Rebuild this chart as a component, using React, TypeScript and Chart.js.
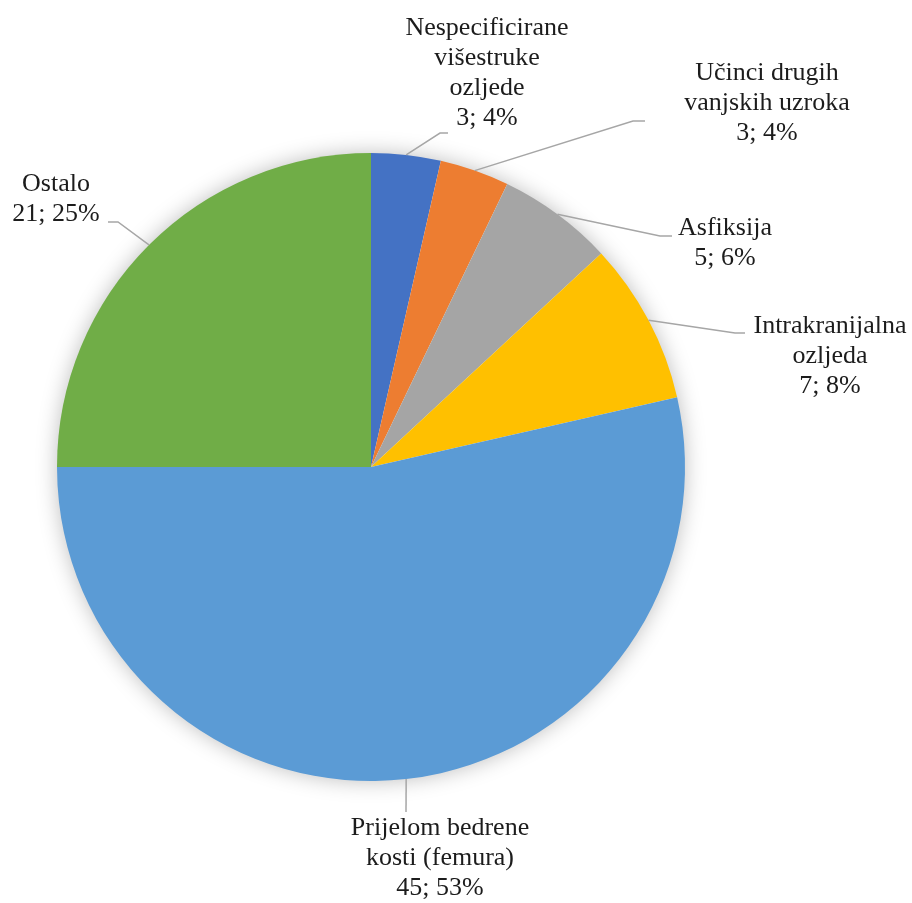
import React, { useEffect, useRef } from "react";
import { Chart, registerables } from "chart.js";

Chart.register(...registerables);

const categories: string[][] = [
  ["Nespecificirane", "višestruke", "ozljede"],
  ["Učinci drugih", "vanjskih uzroka"],
  ["Asfiksija"],
  ["Intrakranijalna", "ozljeda"],
  ["Prijelom bedrene", "kosti (femura)"],
  ["Ostalo"],
];
const values: number[] = [3, 3, 5, 7, 45, 21];
const percents: number[] = [4, 4, 6, 8, 53, 25];
const colors: string[] = ["#4472C4", "#ED7D31", "#A5A5A5", "#FFC000", "#5B9BD5", "#70AD47"];

// label placement relative to pie centre (px): text centre + first baseline, leader elbow, leader end
const labelLayout = [
  { tx: 116, ty: -432, ex: 69, ey: -334, hx: 77, hy: -334 },
  { tx: 396, ty: -387, ex: 262, ey: -346, hx: 274, hy: -346 },
  { tx: 354, ty: -232, ex: 289, ey: -231, hx: 301, hy: -231 },
  { tx: 459, ty: -134, ex: 364, ey: -134, hx: 374, hy: -134 },
  { tx: 69, ty: 368, ex: 35, ey: 345, hx: 35, hy: 345 },
  { tx: -315, ty: -276, ex: -253, ey: -245, hx: -263, hy: -245 },
];

const FONT = '26px "Liberation Serif", "Times New Roman", serif';
const LINE_H = 30;

const shadowPlugin = {
  id: "pieShadow",
  beforeDatasetsDraw(chart: any) {
    const meta = chart.getDatasetMeta(0);
    const arc = meta.data[0];
    if (!arc) return;
    const { x, y, outerRadius } = arc.getProps(["x", "y", "outerRadius"], true);
    const ctx = chart.ctx;
    ctx.save();
    ctx.shadowColor = "rgba(0,0,0,0.28)";
    ctx.shadowBlur = 22;
    ctx.shadowOffsetX = 0;
    ctx.shadowOffsetY = 0;
    ctx.fillStyle = "#ffffff";
    ctx.beginPath();
    ctx.arc(x, y, outerRadius - 1, 0, Math.PI * 2);
    ctx.fill();
    ctx.restore();
  },
};

const labelPlugin = {
  id: "pieLabels",
  afterDatasetsDraw(chart: any) {
    const meta = chart.getDatasetMeta(0);
    const ctx = chart.ctx;
    ctx.save();
    meta.data.forEach((el: any, i: number) => {
      const { x, y, outerRadius, startAngle, endAngle } = el.getProps(
        ["x", "y", "outerRadius", "startAngle", "endAngle"],
        true
      );
      const mid = (startAngle + endAngle) / 2;
      const ax = x + Math.cos(mid) * outerRadius;
      const ay = y + Math.sin(mid) * outerRadius;
      const L = labelLayout[i];
      ctx.strokeStyle = "#A6A6A6";
      ctx.lineWidth = 1.5;
      ctx.beginPath();
      ctx.moveTo(ax, ay);
      ctx.lineTo(x + L.ex, y + L.ey);
      ctx.lineTo(x + L.hx, y + L.hy);
      ctx.stroke();
      const lines = [...categories[i], `${values[i]}; ${percents[i]}%`];
      ctx.fillStyle = "#1c1c1c";
      ctx.font = FONT;
      ctx.textAlign = "center";
      ctx.textBaseline = "alphabetic";
      lines.forEach((t, k) => {
        ctx.fillText(t, x + L.tx, y + L.ty + k * LINE_H);
      });
    });
    ctx.restore();
  },
};

export default function App() {
  const ref = useRef<HTMLCanvasElement | null>(null);
  useEffect(() => {
    document.body.style.margin = "0";
    const canvas = ref.current;
    if (!canvas) return;
    const chart = new Chart(canvas, {
      type: "pie",
      data: {
        labels: categories.map((c) => c.join(" ")),
        datasets: [
          {
            data: values,
            backgroundColor: colors,
            borderWidth: 0,
          },
        ],
      },
      options: {
        animation: false,
        responsive: false,
        rotation: 0,
        layout: { padding: { left: 57, right: 227, top: 153, bottom: 122 } },
        plugins: {
          legend: { display: false },
          tooltip: { enabled: false },
        },
      },
      plugins: [shadowPlugin, labelPlugin],
    });
    return () => chart.destroy();
  }, []);
  return (
    <div style={{ width: 912, height: 903, background: "#fff" }}>
      <canvas ref={ref} width={912} height={903} style={{ display: "block" }} />
    </div>
  );
}
